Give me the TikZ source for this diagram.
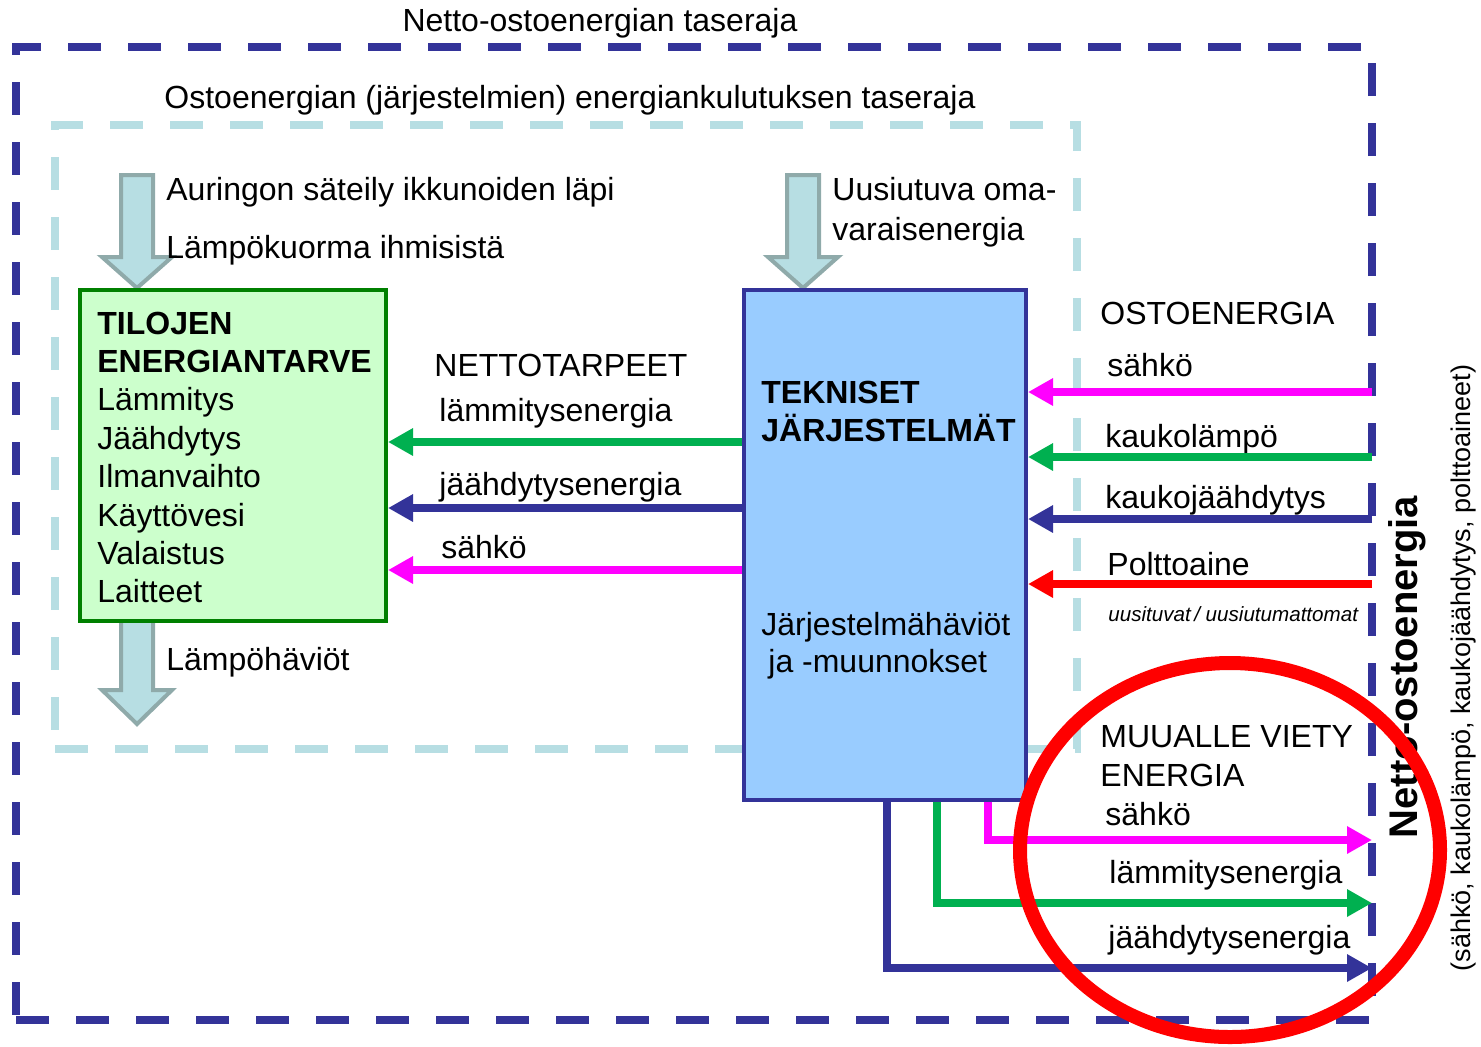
\documentclass[tikz,border=0pt]{standalone}
\usepackage{fontspec}
\setmainfont{Liberation Sans}
\usetikzlibrary{arrows.meta}
\definecolor{navy}{RGB}{51,51,153}
\definecolor{vaalea}{RGB}{183,222,227}
\definecolor{harmaa}{RGB}{143,170,170}
\definecolor{vihrea}{RGB}{0,176,80}
\definecolor{tvihrea}{RGB}{0,128,0}
\definecolor{lvihrea}{RGB}{204,255,204}
\definecolor{sininen}{RGB}{153,204,255}
\definecolor{magneta}{RGB}{255,0,255}
\tikzset{
  teksti/.style={anchor=base west,inner sep=0pt,font=\fontsize{16}{19}\selectfont},
  otsikko/.style={teksti,font=\fontsize{16}{19}\selectfont\bfseries},
  raja/.style={line width=4pt,dash pattern=on 16.5pt off 13.5pt,inner sep=0pt,outer sep=0pt},
  laatikko/.style={line width=2pt,inner sep=0pt},
  virta/.style={line width=4pt},
}
\begin{document}
\begin{tikzpicture}[x=0.5pt,y=-0.5pt,>={Triangle[length=12.5pt,width=13pt]}]
\useasboundingbox (0,0) rectangle (1481,1046);
% taserajat
\node[raja,draw=vaalea,minimum width=511pt,minimum height=312pt] (osto) at (566,437) {};
\node[raja,draw=navy,minimum width=678pt,minimum height=486.5pt] (netto) at (694,533.5) {};
\node[teksti,anchor=base] (t1) at (600,31) {Netto-ostoenergian taseraja};
\node[teksti,anchor=base] (t2) at (570,108) {Ostoenergian (järjestelmien) energiankulutuksen taseraja};
% paksut nuolet
\foreach \cx/\ty/\hy/\py in {137/175/257/288, 803/175/257/288, 137/610/690/724}
  \filldraw[fill=vaalea,draw=harmaa,line width=2pt]
    (\cx-16,\ty) -- (\cx+16,\ty) -- (\cx+16,\hy) -- (\cx+35,\hy) -- (\cx,\py)
    -- (\cx-35,\hy) -- (\cx-16,\hy) -- cycle;
\node[teksti] (aurinko) at (166,200) {Auringon säteily ikkunoiden läpi};
\node[teksti] (ihmiset) at (166,258) {Lämpökuorma ihmisistä};
\node[teksti] (omav1) at (832,200) {Uusiutuva oma-};
\node[teksti] (omav2) at (832,240) {varaisenergia};
\node[teksti] (haviot) at (166,670) {Lämpöhäviöt};
% laatikot
\node[laatikko,draw=tvihrea,fill=lvihrea,minimum width=153pt,minimum height=165.5pt] (tilat) at (233,455.5) {};
\node[laatikko,draw=navy,fill=sininen,minimum width=141pt,minimum height=255pt] (tekn) at (885,544.5) {};
\node[otsikko] (tilat1) at (97,334) {TILOJEN};
\node[otsikko] (tilat2) at (97,372) {ENERGIANTARVE};
\foreach \t/\y [count=\i] in {Lämmitys/410, Jäähdytys/449, Ilmanvaihto/487, Käyttövesi/526, Valaistus/564, Laitteet/602}
  \node[teksti] (tarve\i) at (97,\y) {\t};
\node[otsikko] (tekn1) at (761,403) {TEKNISET};
\node[otsikko] (tekn2) at (761,441) {JÄRJESTELMÄT};
\node[teksti] (tekn3) at (761,635) {Järjestelmähäviöt};
\node[teksti] (tekn4) at (768,672) {ja -muunnokset};
% nettotarpeet
\node[teksti] (ntarve) at (434,376) {NETTOTARPEET};
\node[teksti] (nlampo) at (439,421) {lämmitysenergia};
\node[teksti] (njaah) at (439,495) {jäähdytysenergia};
\node[teksti] (nsahko) at (441,558) {sähkö};
\draw[->,virta,vihrea] (tekn.west |- 0,442) -- (tilat.east |- 0,442);
\draw[->,virta,navy] (tekn.west |- 0,508) -- (tilat.east |- 0,508);
\draw[->,virta,magneta] (tekn.west |- 0,570) -- (tilat.east |- 0,570);
% ostoenergia
\node[teksti] (ostot) at (1100,324) {OSTOENERGIA};
\node[teksti] (osahko) at (1107,376) {sähkö};
\node[teksti] (olampo) at (1105,447) {kaukolämpö};
\node[teksti] (ojaah) at (1105,508) {kaukojäähdytys};
\node[teksti] (opoltto) at (1107,575) {Polttoaine};
\node[teksti,font=\fontsize{10.3}{12}\selectfont\itshape] (ouusi) at (1108,621) {uusituvat\,/ uusiutumattomat};
\draw[->,virta,magneta] (netto.east |- 0,392) -- (tekn.east |- 0,392);
\draw[->,virta,vihrea] (netto.east |- 0,457) -- (tekn.east |- 0,457);
\draw[->,virta,navy] (netto.east |- 0,519) -- (tekn.east |- 0,519);
\draw[->,virta,red] (netto.east |- 0,584) -- (tekn.east |- 0,584);
% muualle viety
\node[teksti] (viety1) at (1100,747) {MUUALLE VIETY};
\node[teksti] (viety2) at (1100,786) {ENERGIA};
\node[teksti] (vsahko) at (1105,825) {sähkö};
\node[teksti] (vlampo) at (1109,883) {lämmitysenergia};
\node[teksti] (vjaah) at (1108,948) {jäähdytysenergia};
\draw[->,virta,magneta] (tekn.south -| 988,0) |- (netto.east |- 0,840);
\draw[->,virta,vihrea] (tekn.south -| 937,0) |- (netto.east |- 0,903);
\draw[->,virta,navy] (tekn.south -| 887,0) |- (netto.east |- 0,968);
% pystytekstit
\node[rotate=90,inner sep=0pt,font=\fontsize{20}{24}\selectfont\bfseries] (nettoosto) at (1407,667) {Netto-ostoenergia};
\node[rotate=90,inner sep=0pt,font=\fontsize{13.5}{16}\selectfont] (selite) at (1463,668) {(sähkö, kaukolämpö, kaukojäähdytys, polttoaineet)};
\draw[red,line width=7pt] (1230,850) ellipse [x radius=105pt,y radius=93.5pt];
\end{tikzpicture}
\end{document}
